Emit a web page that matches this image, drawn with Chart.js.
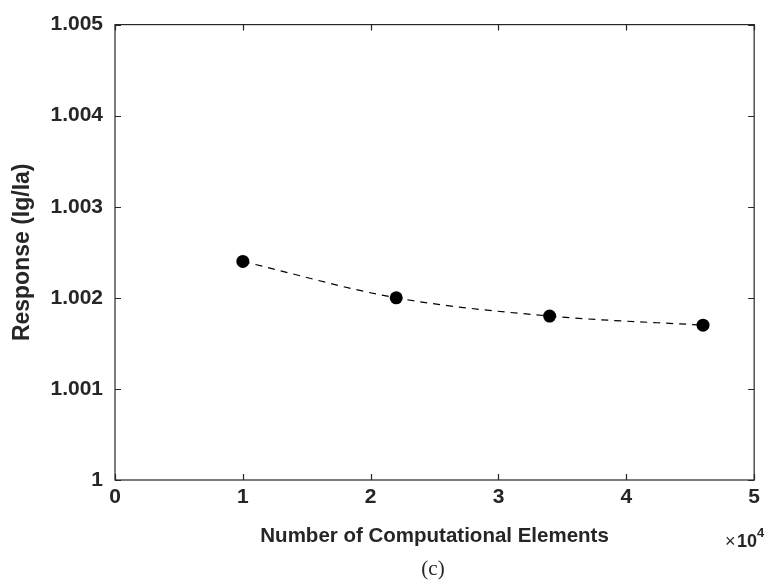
<!DOCTYPE html>
<html>
<head>
<meta charset="utf-8">
<script src="https://cdn.jsdelivr.net/npm/chart.js@4/dist/chart.umd.min.js"></script>
<style>
  html, body { margin: 0; padding: 0; background: #fff; }
  #wrap { width: 765px; height: 585px; }
</style>
</head>
<body>
<div id="wrap"><canvas id="myChart" width="765" height="585"></canvas></div>
<script>
// data
const elements = [10000, 22000, 34000, 46000];     // number of computational elements
const response = [1.0024, 1.0020, 1.0018, 1.0017]; // Ig/Ia
const xTicks = [0, 10000, 20000, 30000, 40000, 50000];
const yTicks = [1, 1.001, 1.002, 1.003, 1.004, 1.005];

const ink = '#262626';
const sans = '"Liberation Sans", Arial, sans-serif';

// box round the plot area, with MATLAB style inward ticks on all four sides
const boxPlugin = {
  id: 'box',
  afterDraw(chart) {
    const ctx = chart.ctx;
    const a = chart.chartArea;
    const xs = chart.scales.x, ys = chart.scales.y;
    ctx.save();
    ctx.strokeStyle = ink;
    ctx.lineWidth = 1.2;
    ctx.strokeRect(a.left, a.top, a.right - a.left, a.bottom - a.top);
    ctx.beginPath();
    xTicks.forEach(v => {
      const px = Math.round(xs.getPixelForValue(v)) + 0.5;
      ctx.moveTo(px, a.bottom); ctx.lineTo(px, a.bottom - 6);
      ctx.moveTo(px, a.top); ctx.lineTo(px, a.top + 6);
    });
    yTicks.forEach(v => {
      const py = Math.round(ys.getPixelForValue(v)) + 0.5;
      ctx.moveTo(a.left, py); ctx.lineTo(a.left + 6, py);
      ctx.moveTo(a.right, py); ctx.lineTo(a.right - 6, py);
    });
    ctx.stroke();

    // exponent note under the x axis
    ctx.fillStyle = ink;
    ctx.textBaseline = 'alphabetic';
    ctx.textAlign = 'left';
    ctx.font = '18px ' + sans;
    ctx.fillText('\u00d7', 725, 547);
    ctx.font = 'bold 18px ' + sans;
    ctx.fillText('10', 737, 547);
    ctx.font = 'bold 13px ' + sans;
    ctx.fillText('4', 757, 537);

    // panel label
    ctx.textAlign = 'center';
    ctx.font = '21px "Liberation Serif", "DejaVu Serif", serif';
    ctx.fillText('(c)', 433, 575);
    ctx.restore();
  }
};

new Chart(document.getElementById('myChart').getContext('2d'), {
  type: 'line',
  data: {
    datasets: [{
      data: elements.map((x, i) => ({ x: x, y: response[i] })),
      borderColor: '#000',
      borderWidth: 1.2,
      borderDash: [7, 6],
      cubicInterpolationMode: 'monotone',
      pointRadius: 6.5,
      pointBackgroundColor: '#000',
      pointBorderColor: '#000',
      pointBorderWidth: 0,
      fill: false
    }]
  },
  options: {
    responsive: false,
    animation: false,
    layout: { padding: { left: 0, right: 8, top: 22, bottom: 0 } },
    plugins: {
      legend: { display: false },
      tooltip: { enabled: false }
    },
    scales: {
      x: {
        type: 'linear',
        min: 0,
        max: 50000,
        afterBuildTicks: s => { s.ticks = xTicks.map(v => ({ value: v })); },
        afterFit: s => { s.height = 105; },
        grid: { display: false, drawTicks: false },
        border: { display: false },
        ticks: {
          color: ink,
          padding: 5,
          maxRotation: 0,
          font: { family: sans, size: 21, weight: 'bold' },
          callback: v => String(v / 10000)
        },
        title: {
          display: true,
          text: 'Number of Computational Elements',
          color: ink,
          font: { family: sans, size: 20.5, weight: 'bold' },
          padding: { top: 4, bottom: 36 }
        }
      },
      y: {
        min: 1,
        max: 1.005,
        afterBuildTicks: s => { s.ticks = yTicks.map(v => ({ value: v })); },
        afterFit: s => { s.width = 115; },
        grid: { display: false, drawTicks: false },
        border: { display: false },
        ticks: {
          color: ink,
          padding: 12,
          font: { family: sans, size: 21, weight: 'bold' },
          callback: v => (v === 1 ? '1' : v.toFixed(3))
        },
        title: {
          display: true,
          text: 'Response (Ig/Ia)',
          color: ink,
          font: { family: sans, size: 23, weight: 'bold' },
          padding: { top: 9, bottom: 0 }
        }
      }
    }
  },
  plugins: [boxPlugin]
});
</script>
</body>
</html>
